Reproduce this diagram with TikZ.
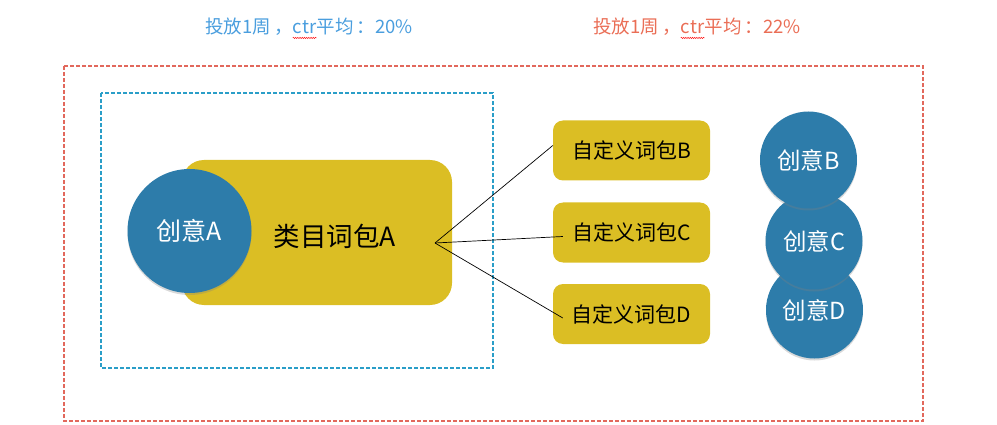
\documentclass[tikz,border=0pt]{standalone}
\usepackage{fontspec}
\newfontfamily\cjk{Noto Sans CJK SC}
\usepackage{xcolor}
\usetikzlibrary{positioning,shadows,decorations.pathmorphing}
\definecolor{ideablue}{RGB}{45,124,170}
\definecolor{pkgyellow}{RGB}{219,190,36}
\definecolor{titleblue}{RGB}{74,158,222}
\definecolor{titlered}{RGB}{234,110,86}
\definecolor{framered}{RGB}{226,104,92}
\definecolor{frameblue}{RGB}{42,158,200}

\begin{document}
\begin{tikzpicture}[x=1pt,y=-1pt,
  idea/.style={circle, fill=ideablue, text=white, minimum size=97pt, inner sep=0pt,
    font=\cjk\fontsize{23.5}{26}\selectfont,
    drop shadow={shadow xshift=0pt, shadow yshift=-2pt, opacity=0.3}},
  pkg/.style={rounded corners=10pt, fill=pkgyellow, minimum width=157pt, minimum height=60pt,
    inner sep=0pt, font=\cjk\fontsize{21}{24}\selectfont},
  ttl/.style={inner sep=0pt, font=\cjk\fontsize{18.5}{21}\selectfont},
  framebox/.style={dash pattern=on 4pt off 2pt, line width=1.1pt},
  spellwave/.style={red, line width=0.4pt, decorate, decoration={snake, amplitude=0.7pt, segment length=2.2pt}}]
\useasboundingbox (0,0) rectangle (997,425);
% titles
\node[ttl, text=titleblue, anchor=base west] (tA1) at (205,34) {投放1周\,，};
\node[ttl, text=titleblue, base right=0pt of tA1] (tA2) {ctr};
\node[ttl, text=titleblue, base right=0pt of tA2] (tA3) {平均\,：20\%};
\draw[spellwave] ([yshift=-3.5pt]tA2.south west) -- ([yshift=-3.5pt]tA2.south east);
\node[ttl, text=titlered, anchor=base west] (tB1) at (593,34) {投放1周\,，};
\node[ttl, text=titlered, base right=0pt of tB1] (tB2) {ctr};
\node[ttl, text=titlered, base right=0pt of tB2] (tB3) {平均\,：22\%};
\draw[spellwave] ([yshift=-3.5pt]tB2.south west) -- ([yshift=-3.5pt]tB2.south east);
% frames
\draw[framebox, framered] (64,66) rectangle (923,421);
\draw[framebox, frameblue] (101,93) rectangle (493,368);
% category package with idea A
\node[fill=pkgyellow, rounded corners=22pt, minimum width=270pt, minimum height=145pt] (catA) at (317,232.5) {};
\node[font=\cjk\fontsize{26.5}{30}\selectfont] (catAtext) at (335,236) {类目词包A};
\node[idea, minimum size=124pt, font=\cjk\fontsize{25}{28}\selectfont] (ideaA) at (189.5,231) {创意A};
% custom packages
\node[pkg] (pkgB) at (631.5,150.5) {自定义词包B};
\node[pkg] (pkgC) at (631.5,232.5) {自定义词包C};
\node[pkg] (pkgD) at (631.5,314) {自定义词包D};
\coordinate (hub) at (435,243);
\draw[black, line width=0.7pt] (hub) -- ([yshift=5pt]pkgB.west);
\draw[black, line width=0.7pt] (hub) -- ([xshift=10pt,yshift=-4pt]pkgC.west);
\draw[black, line width=0.7pt] (hub) -- ([xshift=10pt,yshift=-4pt]pkgD.west);
% ideas
\node[idea] (ideaD) at (814.5,310) {创意D};
\node[idea] (ideaC) at (814,241) {创意C};
\node[idea] (ideaB) at (808.5,160) {创意B};
\end{tikzpicture}
\end{document}
